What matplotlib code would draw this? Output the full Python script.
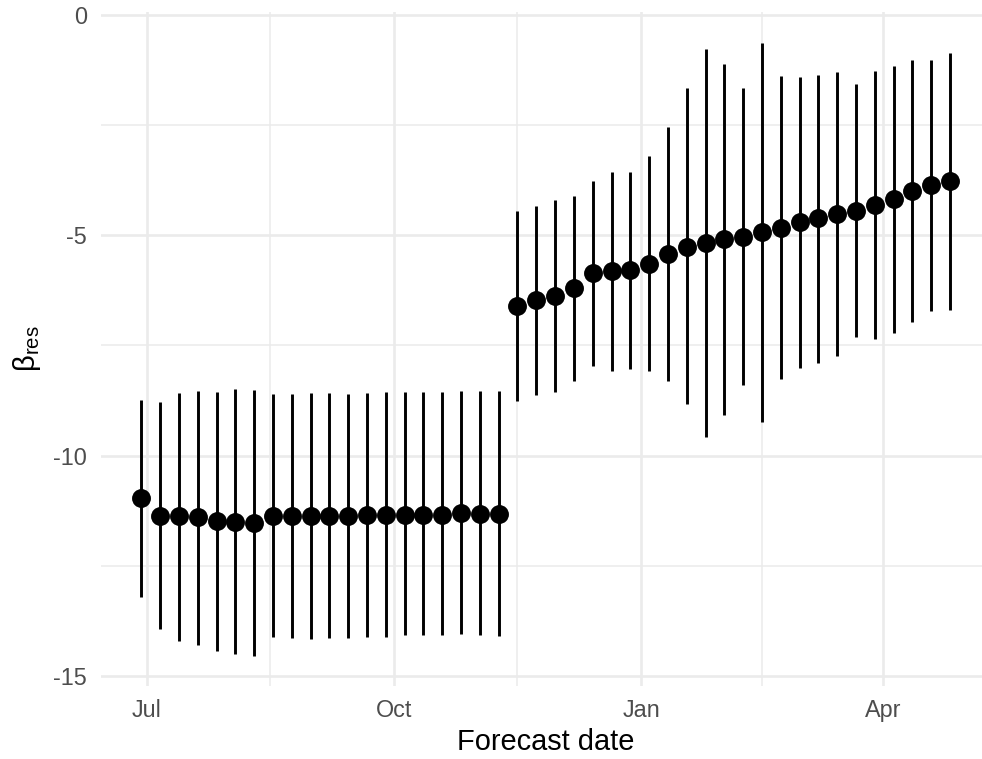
import matplotlib
matplotlib.use("Agg")
import matplotlib.pyplot as plt
import matplotlib.dates as mdates
import numpy as np
import pandas as pd

plt.rcParams['font.family'] = ['Liberation Sans', 'DejaVu Sans']
plt.rcParams['axes.unicode_minus'] = False
plt.rcParams['mathtext.fontset'] = 'custom'
plt.rcParams['mathtext.rm'] = 'Liberation Sans'
plt.rcParams['mathtext.it'] = 'Liberation Sans:italic'

# ---- data ----
start_date = "2020-06-29"
n_weeks = 44
dates = pd.date_range(start_date, periods=n_weeks, freq="7D")

estimate = [-10.97, -11.36, -11.37, -11.40, -11.49, -11.50, -11.53, -11.36, -11.37, -11.37,
            -11.37, -11.37, -11.35, -11.34, -11.34, -11.34, -11.34, -11.31, -11.32, -11.32,
            -6.60, -6.47, -6.38, -6.20, -5.86, -5.82, -5.80, -5.65, -5.43, -5.26,
            -5.18, -5.09, -5.03, -4.93, -4.83, -4.71, -4.62, -4.52, -4.45, -4.31,
            -4.18, -3.99, -3.87, -3.77]
upper = [-8.74, -8.78, -8.57, -8.53, -8.55, -8.50, -8.52, -8.60, -8.60, -8.57,
         -8.58, -8.60, -8.59, -8.56, -8.56, -8.56, -8.56, -8.53, -8.54, -8.54,
         -4.46, -4.33, -4.21, -4.11, -3.76, -3.56, -3.57, -3.20, -2.55, -1.67,
         -0.77, -1.11, -1.66, -0.63, -1.39, -1.42, -1.36, -1.30, -1.57, -1.28,
         -1.15, -1.02, -1.02, -0.86]
lower = [-13.21, -13.93, -14.20, -14.30, -14.43, -14.51, -14.54, -14.11, -14.14, -14.17,
         -14.15, -14.15, -14.12, -14.11, -14.08, -14.08, -14.08, -14.06, -14.08, -14.09,
         -8.76, -8.62, -8.55, -8.30, -7.97, -8.08, -8.03, -8.09, -8.31, -8.84,
         -9.58, -9.09, -8.39, -9.24, -8.27, -8.01, -7.90, -7.73, -7.32, -7.36,
         -7.22, -6.97, -6.73, -6.69]

x_major = ["2020-07-01", "2020-10-01", "2021-01-01", "2021-04-01"]
x_major_labels = ["Jul", "Oct", "Jan", "Apr"]
x_minor = ["2020-08-16", "2020-11-16", "2021-02-15"]
y_major = [0, -5, -10, -15]
y_minor = [-2.5, -7.5, -12.5]

# ---- figure ----
W, H = 982, 759
fig = plt.figure(figsize=(W / 100, H / 100), dpi=100)
left_px, right_px, top_px, bottom_px = 101, 990.4, 12, 686.3
ax = fig.add_axes([left_px / W, 1 - bottom_px / H, (right_px - left_px) / W, (bottom_px - top_px) / H])

grid_col = "#EBEBEB"
ax.vlines(dates, lower, upper, color="black", lw=2.1, zorder=3)
ax.scatter(dates, estimate, s=185, color="black", zorder=4, linewidths=0)

# ggplot-like 5% expansion
xnum = mdates.date2num(dates)
xr = xnum.max() - xnum.min()
ax.set_xlim(xnum.min() - 0.05 * xr, xnum.max() + 0.05 * xr)
ymin, ymax = min(lower), max(upper)
yr = ymax - ymin
ax.set_ylim(ymin - 0.05 * yr, ymax + 0.05 * yr)

ax.set_xticks(pd.to_datetime(x_major))
ax.set_xticklabels(x_major_labels)
ax.set_xticks(pd.to_datetime(x_minor), minor=True)
ax.set_yticks(y_major)
ax.set_yticklabels([str(v) for v in y_major])
ax.set_yticks(y_minor, minor=True)

ax.grid(True, which="major", color=grid_col, lw=1.9, zorder=0)
ax.grid(True, which="minor", color=grid_col, lw=1.1, zorder=0)
ax.set_axisbelow(True)
for s in ax.spines.values():
    s.set_visible(False)
ax.tick_params(which="both", length=0)
ax.tick_params(axis="x", which="major", labelsize=16.8, labelcolor="#4D4D4D", pad=9)
ax.tick_params(axis="y", which="major", labelsize=16.8, labelcolor="#4D4D4D", pad=10)

fig.text((left_px + right_px) / 2 / W, 1 - 750 / H, "Forecast date", ha="center", va="baseline",
         fontsize=20.9, color="black")
fig.text(27 / W, 1 - 349 / H, r"$\mathrm{\beta}_{\mathrm{res}}$", rotation=90, ha="center", va="center",
         fontsize=21, color="black")

fig.savefig("out.png", dpi=100)
